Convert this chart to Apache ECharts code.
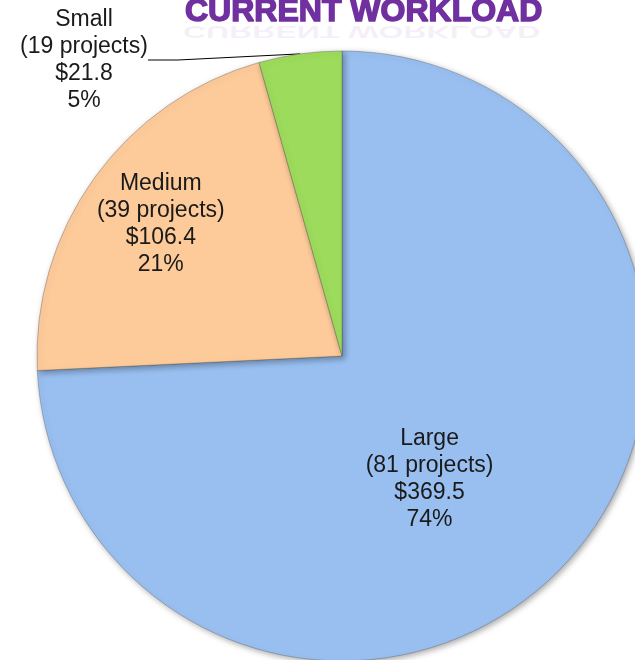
<!DOCTYPE html>
<html>
<head>
<meta charset="utf-8">
<script src="https://cdn.jsdelivr.net/npm/echarts@6/dist/echarts.min.js"></script>
<style>
  html, body { margin: 0; padding: 0; background: #fff; }
  #chart { width: 635px; height: 660px; }
</style>
</head>
<body>
<div id="chart"></div>
<script>
  // slice data, clockwise from 12 o'clock
  const categories = ['Large', 'Medium', 'Small'];
  const projectCounts = [81, 39, 19];
  const amounts = [369.5, 106.4, 21.8];
  const percentLabels = ['74%', '21%', '5%'];
  const colors = ['#98bff0', '#fdca9a', '#9ddb5c'];

  const chart = echarts.init(document.getElementById('chart'));

  function sliceLabel(p) {
    const i = p.dataIndex;
    return categories[i] + '\n(' + projectCounts[i] + ' projects)\n$' +
      amounts[i].toFixed(1) + '\n' + percentLabels[i];
  }

  const labelFont = {
    color: '#1a1a1a',
    fontFamily: 'Liberation Sans',
    fontSize: 23,
    lineHeight: 27,
    align: 'center'
  };

  // label offsets (px) per slice
  const labelShift = [
    { dx: -25, dy: 16 },
    { dx: -55, dy: -41 },
    null
  ];

  chart.setOption({
    animation: false,
    graphic: [
      {
        // faint reflection under the title
        type: 'text',
        left: 183,
        top: 22,
        scaleY: -0.5,
        originY: 0,
        style: {
          text: 'CURRENT WORKLOAD',
          fill: 'rgba(112,48,160,0.07)',
          font: 'bold 32px "Liberation Sans"'
        },
        z: 1
      }
    ],
    title: {
      text: 'CURRENT WORKLOAD',
      left: 180,
      top: -9,
      textStyle: {
        color: '#7030a0',
        fontFamily: 'Liberation Sans',
        fontWeight: 'bold',
        fontSize: 32,
        textBorderColor: '#7030a0',
        textBorderWidth: 1.5
      }
    },
    series: [
      {
        type: 'pie',
        center: [342, 356],
        radius: 305,
        startAngle: 90,
        clockwise: true,
        data: categories.map((name, i) => ({
          name: name,
          value: amounts[i],
          itemStyle: { color: colors[i] },
          label: { show: i !== 2 }
        })),
        itemStyle: {
          borderColor: 'rgba(80,80,80,0.35)',
          borderWidth: 1,
          shadowBlur: 6,
          shadowOffsetX: 2,
          shadowOffsetY: 2,
          shadowColor: 'rgba(0,0,0,0.35)'
        },
        label: Object.assign({ position: 'inside', formatter: sliceLabel }, labelFont),
        labelLine: { show: false },
        labelLayout: function (p) {
          const s = labelShift[p.dataIndex];
          if (s) return { dx: s.dx, dy: s.dy };
          return {};
        }
      },
      {
        // small slice label, drawn outside with a leader line
        type: 'pie',
        center: [342, 356],
        radius: 305,
        startAngle: 90,
        clockwise: true,
        silent: true,
        data: categories.map((name, i) => ({
          name: name,
          value: amounts[i],
          itemStyle: { color: 'transparent' },
          label: { show: i === 2 },
          labelLine: { show: i === 2 }
        })),
        label: Object.assign({ position: 'outside', formatter: sliceLabel }, labelFont),
        labelLine: {
          lineStyle: { color: '#000', width: 1 }
        },
        labelLayout: function (p) {
          if (p.dataIndex === 2) {
            return { x: 84, y: 60, align: 'center', verticalAlign: 'middle' };
          }
          return {};
        }
      }
    ]
  });
</script>
</body>
</html>
